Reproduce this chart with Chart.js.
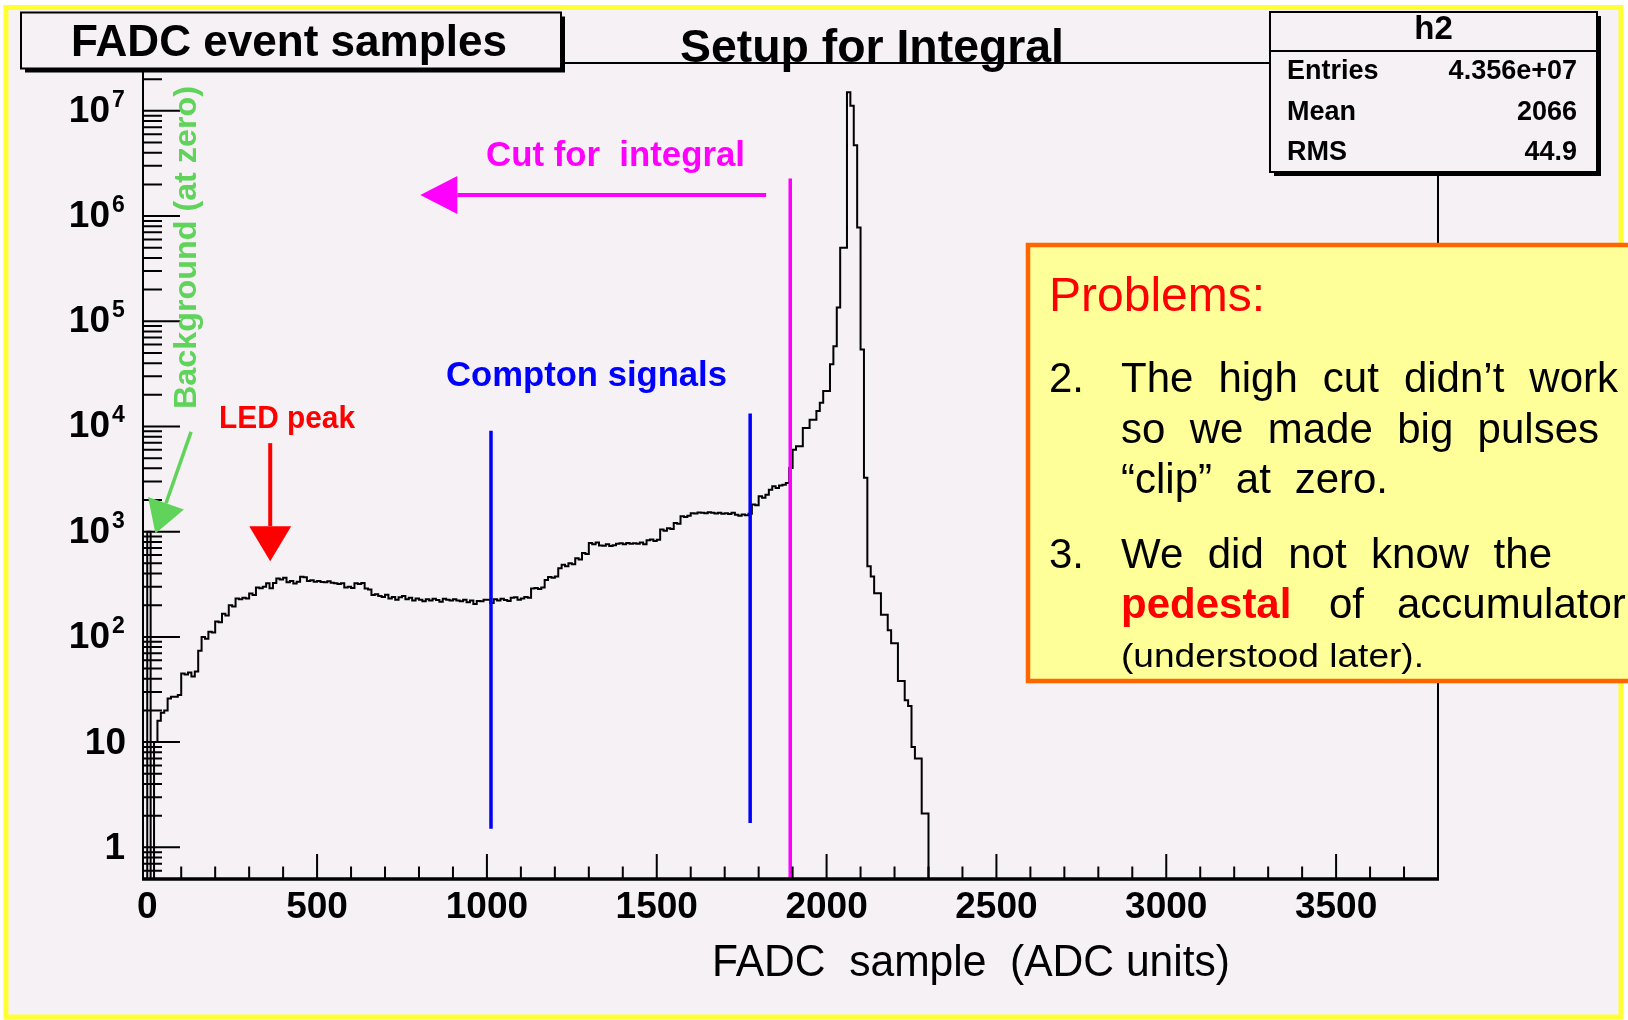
<!DOCTYPE html>
<html>
<head>
<meta charset="utf-8">
<title>FADC event samples</title>
<script src="https://cdn.jsdelivr.net/npm/chart.js@4.4.1/dist/chart.umd.min.js"></script>
<style>
  html, body { margin: 0; padding: 0; background: #fff; }
  #wrap { width: 1628px; height: 1020px; }
</style>
</head>
<body>
<div id="wrap"><canvas id="fadc" width="1628" height="1020"></canvas></div>
<script>
// histogram h2: 10 ADC-unit bins starting at 0, counts
const binStart = 0;
const binWidth = 10;
const counts = [
  1000, 0, 10, 16, 19, 20, 26, 27, 27, 28,
  45, 44, 46, 42, 47, 74, 100, 96, 112, 110,
  140, 138, 166, 160, 200, 195, 232, 228, 236, 232,
  258, 250, 295, 290, 300, 323, 290, 325, 360, 352,
  365, 330, 340, 322, 335, 373, 368, 340, 345, 335,
  340, 333, 330, 338, 328, 323, 318, 323, 295, 300,
  292, 323, 318, 325, 288, 282, 250, 255, 245, 240,
  252, 232, 240, 225, 238, 245, 228, 235, 222, 232,
  226, 218, 228, 222, 230, 224, 216, 230, 226, 222,
  228, 222, 218, 225, 214, 222, 205, 220, 218, 225,
  226, 210, 228, 222, 230, 224, 220, 236, 238, 226,
  232, 240, 235, 288, 292, 285, 295, 347, 372, 365,
  375, 450, 485, 470, 500, 490, 560, 545, 627, 615,
  780, 760, 790, 740, 735, 760, 730, 745, 770, 775,
  760, 782, 770, 775, 768, 790, 760, 830, 845, 815,
  840, 1050, 1020, 1080, 1060, 1210, 1190, 1400, 1380, 1420,
  1500, 1490, 1520, 1510, 1495, 1530, 1510, 1490, 1515, 1480,
  1500, 1470, 1510, 1450, 1420, 1460, 1430, 1480, 1810, 1780,
  2170, 2100, 2250, 2500, 2700, 2600, 2750, 2800, 2910, 4040,
  6000, 6500, 6500, 9700, 9700, 11600, 11600, 14000, 16800, 21700,
  21700, 39000, 58000, 135000, 500000, 500000, 1.5e7, 1.12e7, 4.7e6, 780000,
  54000, 3250, 470, 376, 260, 260, 162, 162, 116, 87,
  87, 38, 38, 25, 22, 9, 7, 7, 2.1, 2.1
];

const xRange = [-12.5, 3800];
const yRange = [0.5, 2.85e7];
const xLabelValues = [0, 500, 1000, 1500, 2000, 2500, 3000, 3500];
const xMinorStep = 100;
const yLabelExponents = [0, 1, 2, 3, 4, 5, 6, 7];

const stats = [['Entries', '4.356e+07'], ['Mean', '2066'], ['RMS', '44.9']];

// marker lines in data units: [x, y from, y to]
const comptonLines = [[1012, 1.5, 9100], [1775, 1.7, 13300]];
const cutLine = [1893, 0.5, 2.28e6];
// arrows in data units
const cutArrow = [1822, 804, 1.59e6];       // x from, x tip, y
const ledArrow = [362, 6950, 525];          // x, y from, y tip
const bgArrow = [129, 8900, 24, 963];       // x from, y from, x tip, y tip

const PAD_BG = '#f5f1f5';
const FONT = '"Liberation Sans", Arial, Helvetica, sans-serif';

// step outline points (left bin edges), empty bins sit on the axis floor
const points = [{ x: binStart, y: yRange[0] }];
counts.forEach((c, i) => {
  points.push({ x: binStart + i * binWidth, y: c > 0 ? c : yRange[0] });
});
const histEnd = binStart + counts.length * binWidth;
points.push({ x: histEnd, y: yRange[0] }, { x: xRange[1], y: yRange[0] });

function fitText(ctx, text, x0, x1, y, font, color) {
  ctx.save();
  ctx.font = font;
  ctx.fillStyle = color;
  ctx.textAlign = 'left';
  ctx.textBaseline = 'alphabetic';
  const w = ctx.measureText(text).width;
  ctx.translate(x0, y);
  ctx.scale((x1 - x0) / w, 1);
  ctx.fillText(text, 0, 0);
  ctx.restore();
}

function justify(ctx, words, x0, x1, y) {
  const widths = words.map(w => ctx.measureText(w).width);
  const total = widths.reduce((a, b) => a + b, 0);
  const gap = (x1 - x0 - total) / (words.length - 1);
  let x = x0;
  words.forEach((w, i) => {
    ctx.fillText(w, x, y);
    x += widths[i] + gap;
  });
}

function arrow(ctx, x0, y0, x1, y1, headLen, halfW, color, lw) {
  const dx = x1 - x0, dy = y1 - y0;
  const len = Math.hypot(dx, dy);
  const ux = dx / len, uy = dy / len;
  const bx = x1 - ux * headLen, by = y1 - uy * headLen;
  ctx.save();
  ctx.strokeStyle = color;
  ctx.fillStyle = color;
  ctx.lineWidth = lw;
  ctx.beginPath();
  ctx.moveTo(x0, y0);
  ctx.lineTo(bx, by);
  ctx.stroke();
  ctx.beginPath();
  ctx.moveTo(x1, y1);
  ctx.lineTo(bx - uy * halfW, by + ux * halfW);
  ctx.lineTo(bx + uy * halfW, by - ux * halfW);
  ctx.closePath();
  ctx.fill();
  ctx.restore();
}

function shadowBox(ctx, x0, y0, x1, y1) {
  ctx.fillStyle = '#000';
  ctx.fillRect(x0 + 4, y0 + 4, x1 - x0, y1 - y0);
  ctx.fillStyle = PAD_BG;
  ctx.fillRect(x0, y0, x1 - x0, y1 - y0);
  ctx.strokeStyle = '#000';
  ctx.lineWidth = 2;
  ctx.strokeRect(x0, y0, x1 - x0, y1 - y0);
}

const rootStyle = {
  id: 'rootStyle',
  beforeDraw(chart) {
    const { ctx, width, height } = chart;
    ctx.save();
    ctx.fillStyle = '#ffffff';
    ctx.fillRect(0, 0, width, height);
    ctx.fillStyle = PAD_BG;
    ctx.fillRect(6, 7.5, 1615, 1009.5);
    ctx.strokeStyle = '#ffff33';
    ctx.lineWidth = 5;
    ctx.strokeRect(6, 7.5, 1615, 1009.5);
    ctx.restore();
  },
  afterDatasetsDraw(chart) {
    const { ctx, chartArea: ca } = chart;
    const X = v => chart.scales.x.getPixelForValue(v);
    const Y = v => chart.scales.y.getPixelForValue(v);
    ctx.save();
    ctx.lineCap = 'butt';

    // compton window and integral cut
    ctx.lineWidth = 3.5;
    ctx.strokeStyle = '#0000ff';
    comptonLines.forEach(([xv, lo, hi]) => {
      ctx.beginPath();
      ctx.moveTo(X(xv), Y(lo));
      ctx.lineTo(X(xv), Y(hi));
      ctx.stroke();
    });
    ctx.strokeStyle = '#ff00ff';
    ctx.beginPath();
    ctx.moveTo(X(cutLine[0]), Y(cutLine[1]));
    ctx.lineTo(X(cutLine[0]), Y(cutLine[2]));
    ctx.stroke();

    // frame
    ctx.strokeStyle = '#000';
    ctx.lineWidth = 2;
    ctx.beginPath();
    ctx.moveTo(ca.left, ca.bottom);
    ctx.lineTo(ca.left, ca.top);
    ctx.lineTo(ca.right, ca.top);
    ctx.lineTo(ca.right, ca.bottom);
    ctx.stroke();
    ctx.lineWidth = 3.5;
    ctx.beginPath();
    ctx.moveTo(ca.left - 1, ca.bottom);
    ctx.lineTo(ca.right + 1, ca.bottom);
    ctx.stroke();

    // x ticks
    ctx.lineWidth = 2;
    ctx.beginPath();
    for (let v = xMinorStep; v < xRange[1]; v += xMinorStep) {
      const len = xLabelValues.includes(v) ? 25 : 12.5;
      ctx.moveTo(X(v), ca.bottom);
      ctx.lineTo(X(v), ca.bottom - len);
    }
    // y ticks
    for (let e = -1; e <= 7; e++) {
      for (let m = 1; m <= 9; m++) {
        const v = m * Math.pow(10, e);
        if (v <= yRange[0] || v >= yRange[1]) continue;
        const len = m === 1 ? 37 : 19;
        ctx.moveTo(ca.left, Y(v));
        ctx.lineTo(ca.left + len, Y(v));
      }
    }
    ctx.stroke();

    // tick labels
    ctx.fillStyle = '#000';
    ctx.font = 'bold 37px ' + FONT;
    ctx.textAlign = 'center';
    ctx.textBaseline = 'alphabetic';
    xLabelValues.forEach(v => ctx.fillText(String(v), X(v), 918));
    yLabelExponents.forEach(e => {
      const yy = Y(Math.pow(10, e));
      ctx.font = 'bold 37px ' + FONT;
      ctx.textAlign = 'right';
      if (e === 0) {
        ctx.fillText('1', 125, yy + 12);
      } else if (e === 1) {
        ctx.fillText('10', 126, yy + 12);
      } else {
        ctx.fillText('10', 110, yy + 11);
        ctx.font = 'bold 23px ' + FONT;
        ctx.textAlign = 'left';
        ctx.fillText(String(e), 112, yy - 4);
      }
    });

    // axis title
    fitText(ctx, 'FADC  sample  (ADC units)', 712, 1230, 976, '44px ' + FONT, '#000');

    // annotations
    fitText(ctx, 'Cut for  integral', 486, 745, 166, 'bold 35px ' + FONT, '#ff00ff');
    arrow(ctx, X(cutArrow[0]), Y(cutArrow[2]), X(cutArrow[1]), Y(cutArrow[2]), 37, 19, '#ff00ff', 4);
    fitText(ctx, 'Compton signals', 446, 727, 386, 'bold 35px ' + FONT, '#0000ff');
    fitText(ctx, 'LED peak', 219, 355, 428, 'bold 31px ' + FONT, '#ff0000');
    arrow(ctx, X(ledArrow[0]), Y(ledArrow[1]), X(ledArrow[0]), Y(ledArrow[2]), 35, 21, '#ff0000', 4);
    arrow(ctx, X(bgArrow[0]), Y(bgArrow[1]), X(bgArrow[2]), Y(bgArrow[3]), 32, 19, '#5fd35a', 3.5);
    ctx.save();
    ctx.translate(196, 409);
    ctx.rotate(-Math.PI / 2);
    fitText(ctx, 'Background (at zero)', 0, 323, 0, 'bold 32px ' + FONT, '#5fd35a');
    ctx.restore();

    // pad title boxes
    shadowBox(ctx, 21, 12.5, 561, 68.5);
    fitText(ctx, 'FADC event samples', 71, 507, 56, 'bold 44px ' + FONT, '#000');
    fitText(ctx, 'Setup for Integral', 680, 1064, 62, 'bold 47px ' + FONT, '#000');

    // stats box
    shadowBox(ctx, 1270, 12, 1597, 172);
    ctx.lineWidth = 2;
    ctx.beginPath();
    ctx.moveTo(1270, 51);
    ctx.lineTo(1597, 51);
    ctx.stroke();
    ctx.fillStyle = '#000';
    ctx.font = 'bold 33px ' + FONT;
    ctx.textAlign = 'center';
    ctx.fillText('h2', 1433.5, 39);
    ctx.font = 'bold 27px ' + FONT;
    stats.forEach(([name, val], i) => {
      const base = 79 + i * 40.5;
      ctx.textAlign = 'left';
      ctx.fillText(name, 1287, base);
      ctx.textAlign = 'right';
      ctx.fillText(val, 1577, base);
    });

    // problems note
    ctx.fillStyle = '#ffff99';
    ctx.fillRect(1028, 245, 640, 436);
    ctx.strokeStyle = '#ff6600';
    ctx.lineWidth = 4.5;
    ctx.strokeRect(1028, 245, 640, 436);
    ctx.textAlign = 'left';
    ctx.fillStyle = '#ff0000';
    ctx.font = '48px ' + FONT;
    ctx.fillText('Problems:', 1049, 311);
    ctx.fillStyle = '#000';
    ctx.font = '42px ' + FONT;
    ctx.fillText('2.', 1049, 392);
    justify(ctx, ['The', 'high', 'cut', 'didn\u2019t', 'work'], 1121, 1618, 392);
    justify(ctx, ['so', 'we', 'made', 'big', 'pulses'], 1121, 1599, 443);
    justify(ctx, ['\u201Cclip\u201D', 'at', 'zero.'], 1121, 1388, 493);
    ctx.fillText('3.', 1049, 568);
    justify(ctx, ['We', 'did', 'not', 'know', 'the'], 1121, 1552, 568);
    ctx.fillText('of', 1329, 618);
    ctx.fillText('accumulator', 1397, 618);
    ctx.fillStyle = '#ff0000';
    ctx.font = 'bold 42px ' + FONT;
    ctx.fillText('pedestal', 1121, 618);
    fitText(ctx, '(understood later).', 1121, 1424, 667, '34px ' + FONT, '#000');

    ctx.restore();
  }
};

new Chart(document.getElementById('fadc'), {
  type: 'line',
  data: {
    datasets: [{
      label: 'h2',
      data: points,
      stepped: 'before',
      borderColor: '#000000',
      borderWidth: 2,
      pointRadius: 0,
      fill: false
    }]
  },
  options: {
    responsive: false,
    animation: false,
    events: [],
    layout: { padding: { left: 143, top: 63, right: 190, bottom: 141 } },
    scales: {
      x: { type: 'linear', min: xRange[0], max: xRange[1], display: false },
      y: { type: 'logarithmic', min: yRange[0], max: yRange[1], display: false }
    },
    plugins: {
      legend: { display: false },
      tooltip: { enabled: false }
    }
  },
  plugins: [rootStyle]
});
</script>
</body>
</html>
